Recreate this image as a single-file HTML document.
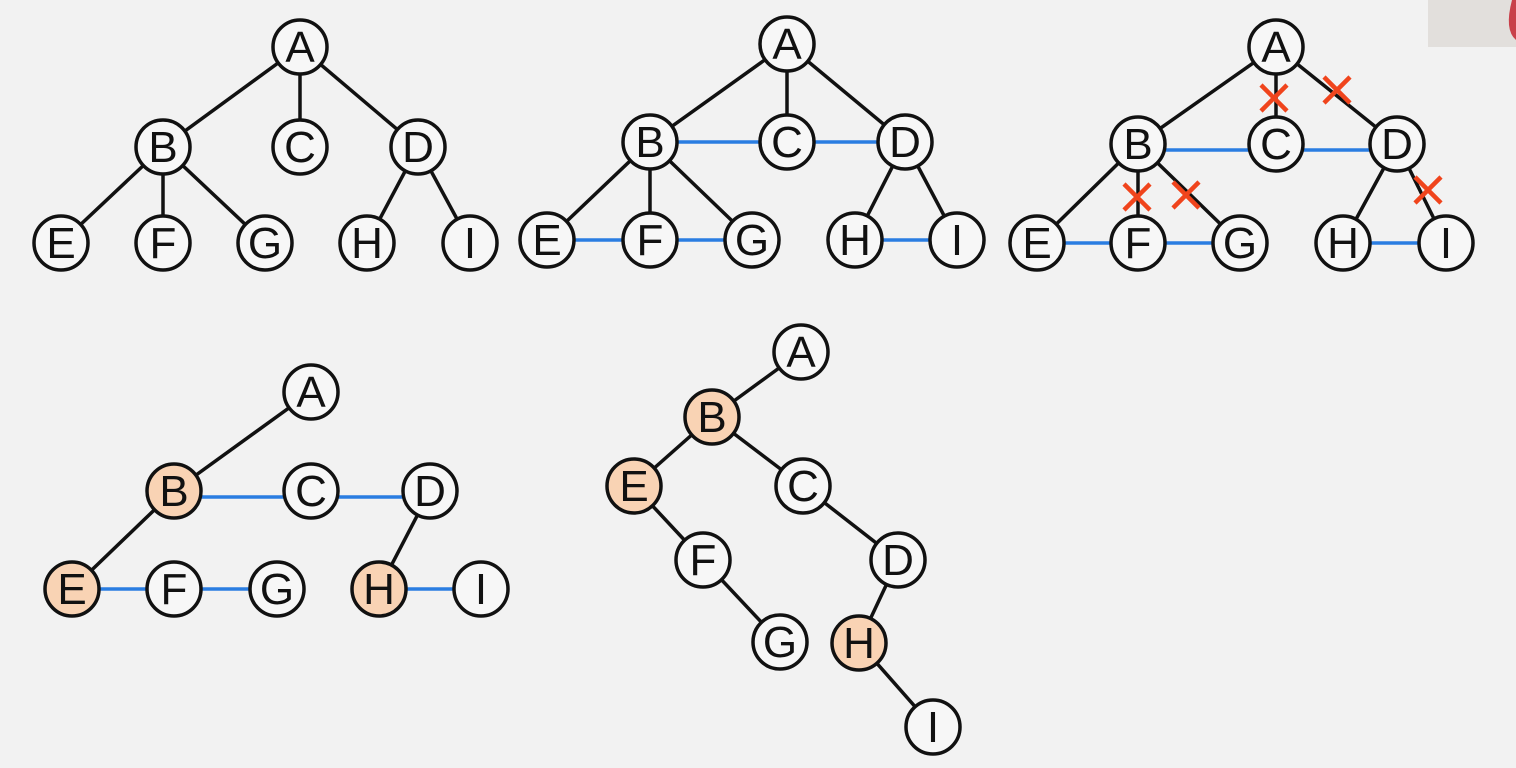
<!DOCTYPE html>
<html><head><meta charset="utf-8"><style>
html,body{margin:0;padding:0;background:#f2f2f2;width:1516px;height:768px;overflow:hidden}
svg{display:block}
.k{stroke:#111;stroke-width:3.5;fill:none}
.b{stroke:#2a7de1;stroke-width:3.5;fill:none}
.x{stroke:#f0441c;stroke-width:4.5;fill:none}
circle{stroke:#111;stroke-width:3.5;fill:#f7f7f7}
circle.o{fill:#f9d3b4}
text{font-family:"Liberation Sans",sans-serif;font-size:44px;text-anchor:middle;fill:#111;transform-box:fill-box}
</style></head><body>
<svg width="1516" height="768" viewBox="0 0 1516 768">
<rect x="1428" y="0" width="88" height="47" fill="#e2dfdc"/>
<path d="M1512 0 Q1504 30 1516 40 L1516 0 Z" fill="#c9404a"/>
<g class="k">
<line x1="300" y1="47" x2="163" y2="147"/><line x1="300" y1="47" x2="300" y2="147"/><line x1="300" y1="47" x2="418" y2="147"/>
<line x1="163" y1="147" x2="61" y2="243"/><line x1="163" y1="147" x2="163" y2="243"/><line x1="163" y1="147" x2="265" y2="243"/>
<line x1="418" y1="147" x2="367" y2="243"/><line x1="418" y1="147" x2="470" y2="243"/>
</g>
<g class="k">
<line x1="787" y1="44" x2="650" y2="142"/><line x1="787" y1="44" x2="787" y2="142"/><line x1="787" y1="44" x2="905" y2="142"/>
<line x1="650" y1="142" x2="547" y2="240"/><line x1="650" y1="142" x2="650" y2="240"/><line x1="650" y1="142" x2="752" y2="240"/>
<line x1="905" y1="142" x2="855" y2="240"/><line x1="905" y1="142" x2="957" y2="240"/>
</g>
<g class="b">
<line x1="650" y1="142" x2="905" y2="142"/><line x1="547" y1="240" x2="752" y2="240"/><line x1="855" y1="240" x2="957" y2="240"/>
</g>
<g class="k">
<line x1="1276" y1="47" x2="1138" y2="144"/><line x1="1276" y1="47" x2="1276" y2="144"/><line x1="1276" y1="47" x2="1397" y2="144"/>
<line x1="1138" y1="144" x2="1037" y2="243"/><line x1="1138" y1="144" x2="1138" y2="243"/><line x1="1138" y1="144" x2="1240" y2="243"/>
<line x1="1397" y1="144" x2="1343" y2="243"/><line x1="1397" y1="144" x2="1446" y2="243"/>
</g>
<g class="b">
<line x1="1138" y1="150" x2="1397" y2="150"/><line x1="1037" y1="243" x2="1240" y2="243"/><line x1="1343" y1="243" x2="1446" y2="243"/>
</g>
<g class="k">
<line x1="311" y1="392" x2="174" y2="491"/><line x1="174" y1="491" x2="72" y2="589"/><line x1="430" y1="491" x2="379" y2="589"/>
</g>
<g class="b">
<line x1="174" y1="497" x2="430" y2="497"/><line x1="72" y1="589" x2="277" y2="589"/><line x1="379" y1="589" x2="481" y2="589"/>
</g>
<g class="k">
<line x1="801" y1="352" x2="712" y2="417"/><line x1="712" y1="417" x2="634" y2="486"/><line x1="712" y1="417" x2="803" y2="486"/>
<line x1="634" y1="486" x2="703" y2="560"/><line x1="703" y1="560" x2="780" y2="642"/><line x1="803" y1="486" x2="898" y2="560"/>
<line x1="898" y1="560" x2="859" y2="643"/><line x1="859" y1="643" x2="933" y2="727"/>
</g>
<g>
<circle cx="300" cy="47" r="27"/><text x="300" y="62">A</text>
<circle cx="163" cy="147" r="27"/><text x="163" y="162">B</text>
<circle cx="300" cy="147" r="27"/><text x="300" y="162">C</text>
<circle cx="418" cy="147" r="27"/><text x="418" y="162">D</text>
<circle cx="61" cy="243" r="27"/><text x="61" y="258">E</text>
<circle cx="163" cy="243" r="27"/><text x="163" y="258">F</text>
<circle cx="265" cy="243" r="27"/><text x="265" y="258">G</text>
<circle cx="367" cy="243" r="27"/><text x="367" y="258">H</text>
<circle cx="470" cy="243" r="27"/><text x="470" y="258">I</text>

<circle cx="787" cy="44" r="27"/><text x="787" y="59">A</text>
<circle cx="650" cy="142" r="27"/><text x="650" y="157">B</text>
<circle cx="787" cy="142" r="27"/><text x="787" y="157">C</text>
<circle cx="905" cy="142" r="27"/><text x="905" y="157">D</text>
<circle cx="547" cy="240" r="27"/><text x="547" y="255">E</text>
<circle cx="650" cy="240" r="27"/><text x="650" y="255">F</text>
<circle cx="752" cy="240" r="27"/><text x="752" y="255">G</text>
<circle cx="855" cy="240" r="27"/><text x="855" y="255">H</text>
<circle cx="957" cy="240" r="27"/><text x="957" y="255">I</text>

<circle cx="1276" cy="47" r="27"/><text x="1276" y="62">A</text>
<circle cx="1138" cy="144" r="27"/><text x="1138" y="159">B</text>
<circle cx="1276" cy="144" r="27"/><text x="1276" y="159">C</text>
<circle cx="1397" cy="144" r="27"/><text x="1397" y="159">D</text>
<circle cx="1037" cy="243" r="27"/><text x="1037" y="258">E</text>
<circle cx="1138" cy="243" r="27"/><text x="1138" y="258">F</text>
<circle cx="1240" cy="243" r="27"/><text x="1240" y="258">G</text>
<circle cx="1343" cy="243" r="27"/><text x="1343" y="258">H</text>
<circle cx="1446" cy="243" r="27"/><text x="1446" y="258">I</text>

<circle cx="311" cy="392" r="27"/><text x="311" y="407">A</text>
<circle class="o" cx="174" cy="491" r="27"/><text x="174" y="506">B</text>
<circle cx="311" cy="491" r="27"/><text x="311" y="506">C</text>
<circle cx="430" cy="491" r="27"/><text x="430" y="506">D</text>
<circle class="o" cx="72" cy="589" r="27"/><text x="72" y="604">E</text>
<circle cx="174" cy="589" r="27"/><text x="174" y="604">F</text>
<circle cx="277" cy="589" r="27"/><text x="277" y="604">G</text>
<circle class="o" cx="379" cy="589" r="27"/><text x="379" y="604">H</text>
<circle cx="481" cy="589" r="27"/><text x="481" y="604">I</text>

<circle cx="801" cy="352" r="27"/><text x="801" y="367">A</text>
<circle class="o" cx="712" cy="417" r="27"/><text x="712" y="432">B</text>
<circle class="o" cx="634" cy="486" r="27"/><text x="634" y="501">E</text>
<circle cx="803" cy="486" r="27"/><text x="803" y="501">C</text>
<circle cx="703" cy="560" r="27"/><text x="703" y="575">F</text>
<circle cx="898" cy="560" r="27"/><text x="898" y="575">D</text>
<circle cx="780" cy="642" r="27"/><text x="780" y="657">G</text>
<circle class="o" cx="859" cy="643" r="27"/><text x="859" y="658">H</text>
<circle cx="933" cy="727" r="27"/><text x="933" y="742">I</text>
</g>
<g class="x">
<path d="M1261 85 L1287 111 M1287 85 L1261 111"/>
<path d="M1324 77 L1350 103 M1350 77 L1324 103"/>
<path d="M1124 184 L1150 210 M1150 184 L1124 210"/>
<path d="M1173 182 L1199 208 M1199 182 L1173 208"/>
<path d="M1415 177 L1441 203 M1441 177 L1415 203"/>
</g>
</svg>
</body></html>
